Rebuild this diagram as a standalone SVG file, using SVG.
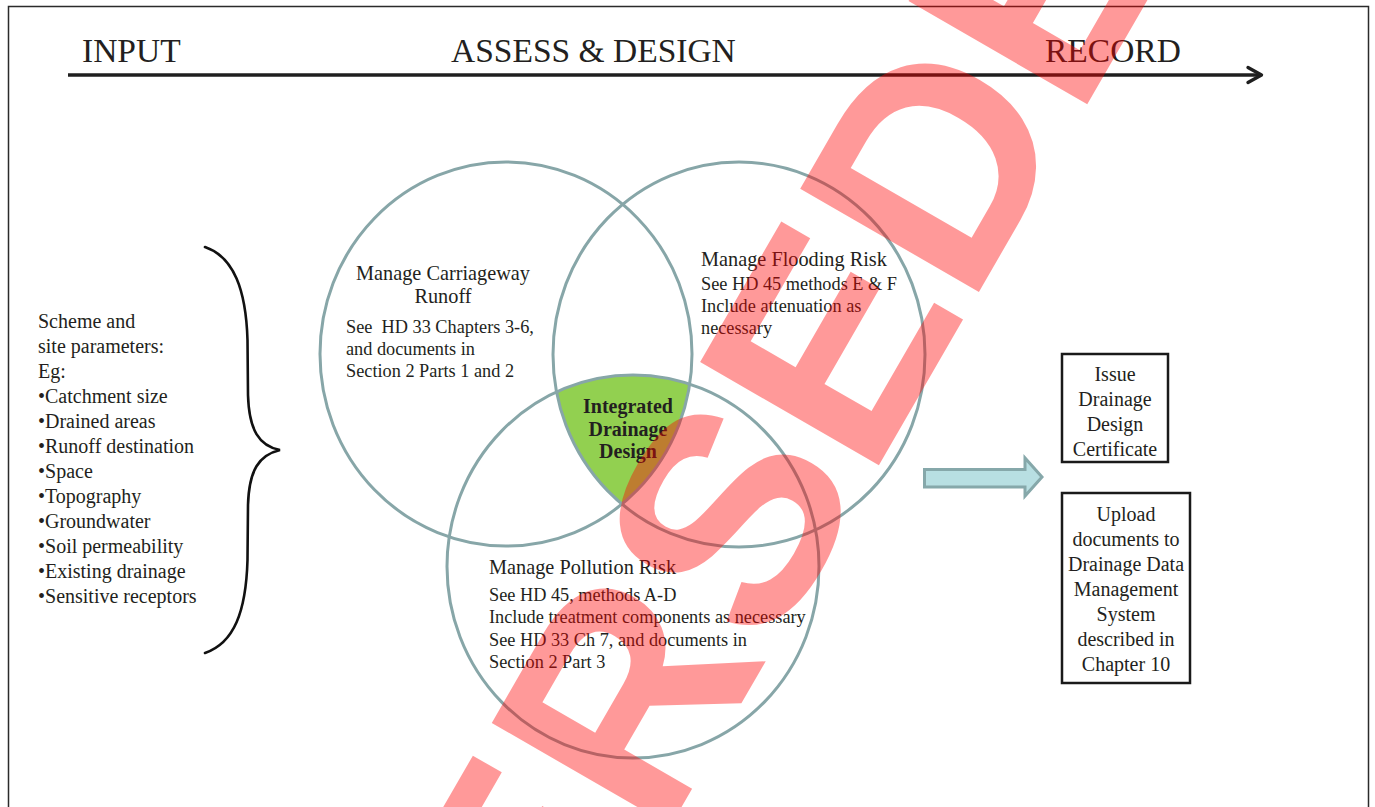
<svg xmlns="http://www.w3.org/2000/svg" width="1375" height="807" viewBox="0 0 1375 807">
<style>
  text { font-family: "Liberation Serif", "Times New Roman", serif; fill: #231f20; }
  .hdr { font-size: 33.5px; }
  .lst { font-size: 20px; }
  .ttl { font-size: 20.3px; }
  .sub { font-size: 18.3px; }
  .bold { font-size: 20px; font-weight: bold; }
  .box { font-size: 20px; text-anchor: middle; }
  .venn { fill: none; stroke: #87a6a8; stroke-width: 3; }
  .rect { fill: #ffffff; stroke: #1a1a1a; stroke-width: 2.5; }
  .wm { font-family: "Liberation Sans", Arial, sans-serif; font-weight: bold; font-size: 300px; fill: #ff0000; fill-opacity: 0.4; }
</style>
<defs>
  <filter id="sh" x="-5%" y="-200%" width="110%" height="500%">
    <feGaussianBlur stdDeviation="1.6"/>
  </filter>
  <clipPath id="clipC"><ellipse cx="506" cy="354" rx="186" ry="192"/></clipPath>
  <clipPath id="clipF"><ellipse cx="739" cy="354.5" rx="186" ry="192.5"/></clipPath>
</defs>
<rect width="1375" height="807" fill="#ffffff"/>
<rect id="frame" x="8.5" y="6.5" width="1360" height="830" fill="none" stroke="#2b2b2b" stroke-width="1.5"/>

<g id="timeline">
  <line x1="68" y1="78.5" x2="1258" y2="78.5" stroke="#9a9a9a" stroke-width="3" filter="url(#sh)"/>
  <line x1="68" y1="75" x2="1260" y2="75" stroke="#1f1f1f" stroke-width="3.4"/>
  <polyline points="1248,67.5 1261.5,75 1248,82.5" fill="none" stroke="#1f1f1f" stroke-width="3.4" stroke-linecap="round" stroke-linejoin="round"/>
  <text class="hdr" x="82" y="62">INPUT</text>
  <text class="hdr" x="451" y="62">ASSESS &amp; DESIGN</text>
  <text class="hdr" x="1045" y="62">RECORD</text>
</g>

<g id="inputs">
  <path d="M205,247 C234,257 246,290 247.5,340 L248,395 C249,430 259,446 280,450 C259,455 249,470 248,505 L247.5,560 C246,612 234,643 205,653" fill="none" stroke="#111" stroke-width="2.6" stroke-linecap="round"/>
  <text class="lst" x="38" y="328">Scheme and</text>
  <text class="lst" x="38" y="353">site parameters:</text>
  <text class="lst" x="38" y="378">Eg:</text>
  <text class="lst" x="38" y="403">•Catchment size</text>
  <text class="lst" x="38" y="428">•Drained areas</text>
  <text class="lst" x="38" y="453">•Runoff destination</text>
  <text class="lst" x="38" y="478">•Space</text>
  <text class="lst" x="38" y="503">•Topography</text>
  <text class="lst" x="38" y="528">•Groundwater</text>
  <text class="lst" x="38" y="553">•Soil permeability</text>
  <text class="lst" x="38" y="578">•Existing drainage</text>
  <text class="lst" x="38" y="603">•Sensitive receptors</text>
</g>

<g id="integrated">
  <g clip-path="url(#clipC)">
    <g clip-path="url(#clipF)">
      <ellipse cx="633" cy="566.5" rx="186" ry="191.5" fill="#92d050"/>
    </g>
  </g>
  <text class="bold" x="628" y="413" text-anchor="middle">Integrated</text>
  <text class="bold" x="628" y="435.5" text-anchor="middle">Drainage</text>
  <text class="bold" x="628" y="458" text-anchor="middle">Design</text>
</g>

<g id="carriageway">
  <ellipse class="venn" cx="506" cy="354" rx="186" ry="192"/>
  <text class="ttl" x="443" y="280" text-anchor="middle">Manage Carriageway</text>
  <text class="ttl" x="443" y="303" text-anchor="middle">Runoff</text>
  <text class="sub" x="346" y="333" style="white-space:pre">See  HD 33 Chapters 3-6,</text>
  <text class="sub" x="346" y="355">and documents in</text>
  <text class="sub" x="346" y="377">Section 2 Parts 1 and 2</text>
</g>

<g id="flooding">
  <ellipse class="venn" cx="739" cy="354.5" rx="186" ry="192.5"/>
  <text class="ttl" x="701" y="266">Manage Flooding Risk</text>
  <text class="sub" x="701" y="290">See HD 45 methods E &amp; F</text>
  <text class="sub" x="701" y="312">Include attenuation as</text>
  <text class="sub" x="701" y="334">necessary</text>
</g>

<g id="pollution">
  <ellipse class="venn" cx="633" cy="566.5" rx="186" ry="191.5"/>
  <text class="ttl" x="489" y="574">Manage Pollution Risk</text>
  <text class="sub" x="489" y="600.5">See HD 45, methods A-D</text>
  <text class="sub" x="489" y="623">Include treatment components as necessary</text>
  <text class="sub" x="489" y="645.5">See HD 33 Ch 7, and documents in</text>
  <text class="sub" x="489" y="668">Section 2 Part 3</text>
</g>

<g id="connectors">
  <polygon points="924.5,469.5 1025,469.5 1025,458 1042,477 1025,496 1025,487 924.5,487" fill="#b8dfe2" stroke="#86a8aa" stroke-width="3" stroke-linejoin="miter"/>
</g>

<g id="certificate">
  <rect class="rect" x="1062" y="354" width="106" height="108"/>
  <text class="box" x="1115" y="381">Issue</text>
  <text class="box" x="1115" y="406">Drainage</text>
  <text class="box" x="1115" y="431">Design</text>
  <text class="box" x="1115" y="456">Certificate</text>
</g>

<g id="upload">
  <rect class="rect" x="1062" y="493" width="128" height="190"/>
  <text class="box" x="1126" y="521">Upload</text>
  <text class="box" x="1126" y="546">documents to</text>
  <text class="box" x="1126" y="571">Drainage Data</text>
  <text class="box" x="1126" y="596">Management</text>
  <text class="box" x="1126" y="621">System</text>
  <text class="box" x="1126" y="646">described in</text>
  <text class="box" x="1126" y="671">Chapter 10</text>
</g>

<g id="watermark">
  <text class="wm" transform="translate(252 1551) rotate(-60)" x="0" y="0">SUPERSEDED</text>
</g>
</svg>
